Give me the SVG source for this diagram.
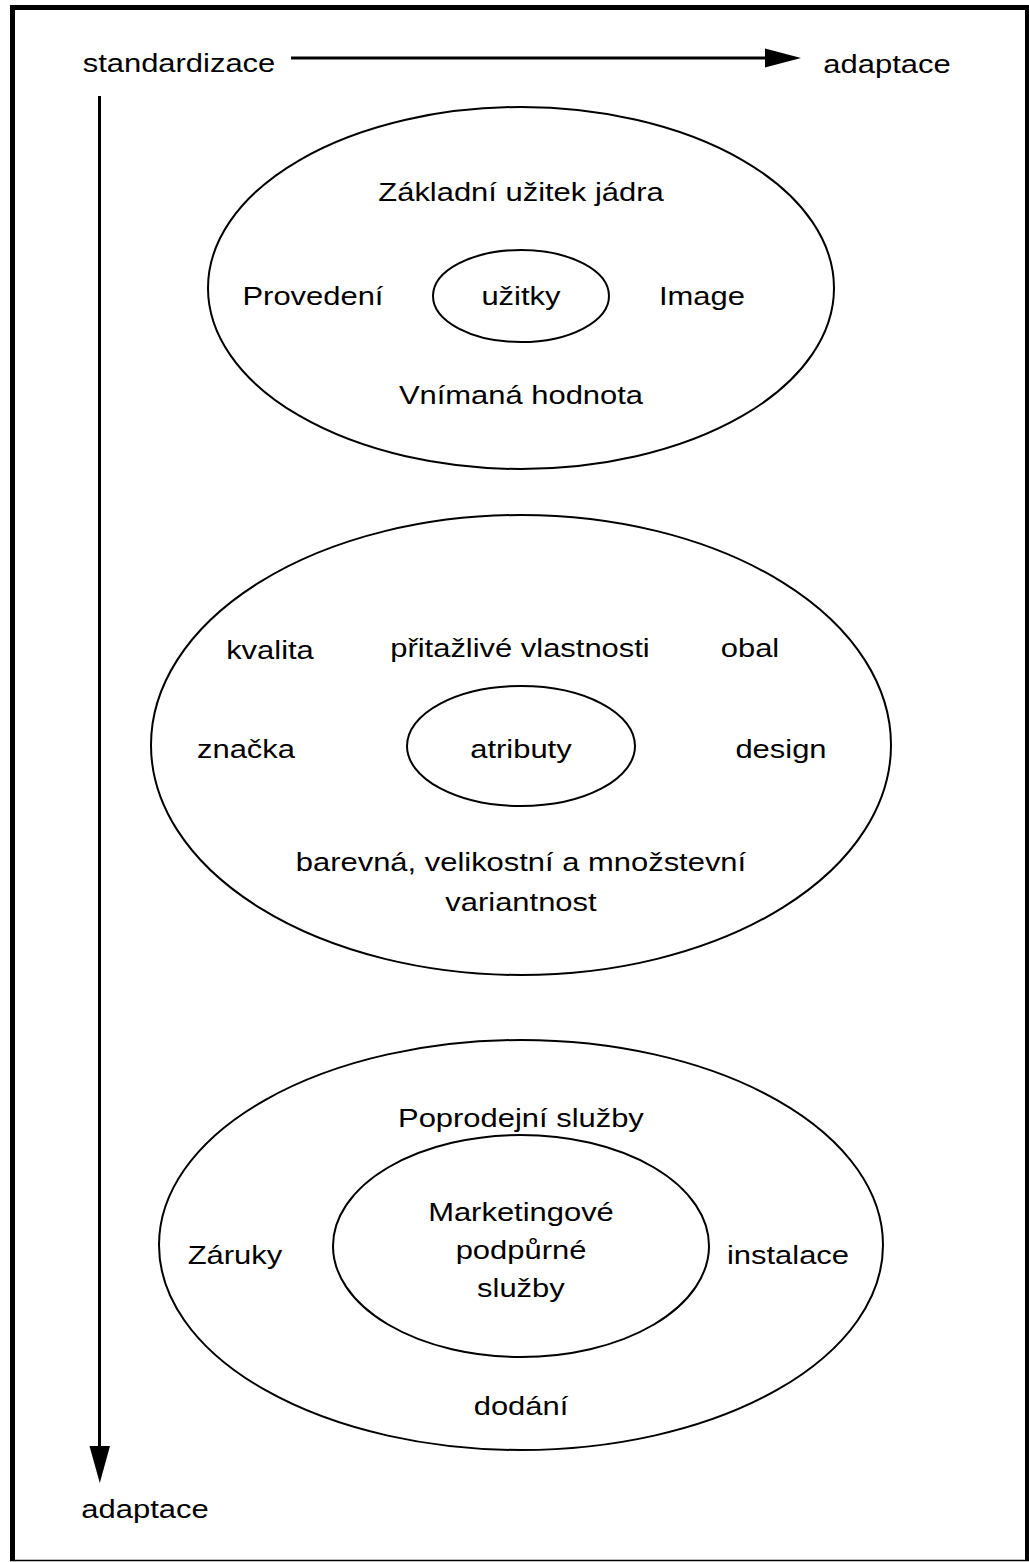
<svg xmlns="http://www.w3.org/2000/svg" width="1029" height="1562" viewBox="0 0 1029 1562">
<style>
  text { font-family: "Liberation Sans", Arial, sans-serif; font-size: 26px; fill: #000; text-anchor: middle; transform-box: fill-box; transform-origin: center; transform: scaleX(1.19); }
  .ring { fill: none; stroke: #000; stroke-width: 2; }
  .axis { stroke: #000; stroke-width: 3; fill: none; }
  .head { fill: #000; stroke: none; }
</style>
<rect x="0" y="0" width="1029" height="1562" fill="#fff"/>
<g id="frame" stroke="#000" fill="none">
  <line x1="10" y1="7.5" x2="1029" y2="7.5" stroke-width="5"/>
  <line x1="12.5" y1="5" x2="12.5" y2="1561" stroke-width="5"/>
  <line x1="1027" y1="5" x2="1027" y2="1561" stroke-width="4"/>
  <line x1="10" y1="1560.5" x2="1029" y2="1560.5" stroke-width="1.5"/>
</g>
<g id="connectors">
  <line class="axis" x1="291" y1="58" x2="768" y2="58"/>
  <polygon class="head" points="765,48.5 801,58 765,67.5"/>
  <line class="axis" x1="99.5" y1="96" x2="99.5" y2="1449"/>
  <polygon class="head" points="89.5,1446 110,1446 99.8,1483"/>
</g>
<g id="axis-labels">
  <text x="179" y="72">standardizace</text>
  <text x="887" y="73">adaptace</text>
  <text x="145" y="1518">adaptace</text>
</g>
<g id="node-uzitky">
  <ellipse class="ring" cx="521" cy="288" rx="313" ry="181"/>
  <ellipse class="ring" cx="521" cy="296" rx="88" ry="46"/>
  <text x="521" y="201">Základní užitek jádra</text>
  <text x="313" y="305">Provedení</text>
  <text x="521" y="305">užitky</text>
  <text x="702" y="305">Image</text>
  <text x="521" y="404">Vnímaná hodnota</text>
</g>
<g id="node-atributy">
  <ellipse class="ring" cx="521" cy="745" rx="370" ry="230"/>
  <ellipse class="ring" cx="521" cy="746" rx="114" ry="60"/>
  <text x="270" y="659">kvalita</text>
  <text x="520" y="657">přitažlivé vlastnosti</text>
  <text x="750" y="657">obal</text>
  <text x="246" y="758">značka</text>
  <text x="521" y="758">atributy</text>
  <text x="781" y="758">design</text>
  <text x="521" y="871">barevná, velikostní a množstevní</text>
  <text x="521" y="911">variantnost</text>
</g>
<g id="node-sluzby">
  <ellipse class="ring" cx="521" cy="1245" rx="362" ry="205"/>
  <ellipse class="ring" cx="521" cy="1246" rx="188" ry="111"/>
  <text x="521" y="1127">Poprodejní služby</text>
  <text x="235" y="1264">Záruky</text>
  <text x="521" y="1221">Marketingové</text>
  <text x="521" y="1259">podpůrné</text>
  <text x="521" y="1297">služby</text>
  <text x="788" y="1264">instalace</text>
  <text x="521" y="1415">dodání</text>
</g>
</svg>
